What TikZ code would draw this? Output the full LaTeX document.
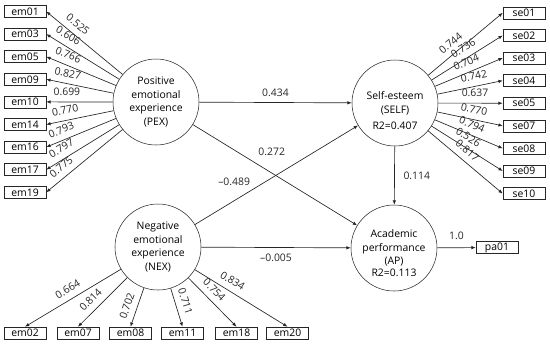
\documentclass[tikz,border=0pt]{standalone}
\usepackage{fontspec}
\setmainfont{Open Sans}
\usetikzlibrary{arrows.meta}
\begin{document}
\begin{tikzpicture}[x=0.75pt,y=-0.75pt,every node/.style={font=\fontsize{7.8}{10.3}\selectfont},
  latent/.style={draw=black!85,circle,minimum size=64.5pt,inner sep=0pt,align=center},
  obs/.style={draw=black!85,minimum width=31.5pt,minimum height=9pt,inner sep=0pt},
  pth/.style={-{Latex[length=3.2pt,width=2.6pt]},line width=0.5pt,black!85},
  coef/.style={inner sep=2.5pt}]
  \useasboundingbox (0,0) rectangle (550,344);
  \node[latent] (PEX) at (156,102) {Positive\\emotional\\experience\\(PEX)};
  \node[latent] (NEX) at (158,247) {Negative\\emotional\\experience\\(NEX)};
  \node[latent] (SELF) at (395,103) {Self-esteem\\(SELF)};
  \node[latent] (AP) at (394,248) {Academic\\performance\\(AP)};
  \node (SELFr) at (395,126) {R2=0.407};
  \node (APr) at (394,273) {R2=0.113};
  \foreach \n/\w/\p [count=\i from 0] in {01/0.525/0.67,03/0.606/0.77,05/0.766/0.74,09/0.827/0.71,10/0.699/0.69,14/0.770/0.69,16/0.793/0.73,17/0.797/0.72,19/0.775/0.72} {
    \node[obs] (em\n) at (25,{11.5+22.6*\i}) {em\n};
    \draw[pth] (PEX) -- node[coef,sloped,above=2pt,pos=\p] {\w} (em\n.east);
  }
  \foreach \n/\w/\p [count=\i from 0] in {01/0.744/0.39,02/0.736/0.52,03/0.704/0.52,04/0.742/0.59,05/0.637/0.57,07/0.770/0.53,08/0.794/0.49,09/0.526/0.44,10/0.817/0.44} {
    \node[obs] (se\n) at (524,{12.8+22.6*\i}) {se\n};
    \draw[pth] (SELF) -- node[coef,sloped,above=2pt,pos=\p] {\w} (se\n.west);
  }
  \foreach \n/\x/\w/\p in {02/25/0.664/0.5,07/78/0.814/0.6,08/130.5/0.702/0.55,11/182.5/0.711/0.42,18/236.5/0.754/0.39,20/287.5/0.834/0.35} {
    \node[obs] (em\n) at (\x,333) {em\n};
    \draw[pth] (NEX) -- node[coef,sloped,above=2pt,pos=\p] {\w} (em\n.north);
  }
  \node[obs] (pa01) at (497,247.5) {pa01};
  \draw[pth] (PEX) -- node[coef,midway,above=2pt] {0.434} (SELF);
  \draw[pth] (PEX) -- node[coef,pos=0.48,above=10pt] {0.272} (AP);
  \draw[pth] (NEX) -- node[coef,pos=0.36,above left] {\textendash0.489} (SELF);
  \draw[pth] (NEX) -- node[coef,midway,below=2pt] {\textendash0.005} (AP);
  \draw[pth] (SELF) -- node[coef,midway,right=4pt] {0.114} (AP);
  \draw[pth] (AP) -- node[coef,midway,above=3pt] {1.0} (pa01);
\end{tikzpicture}
\end{document}
